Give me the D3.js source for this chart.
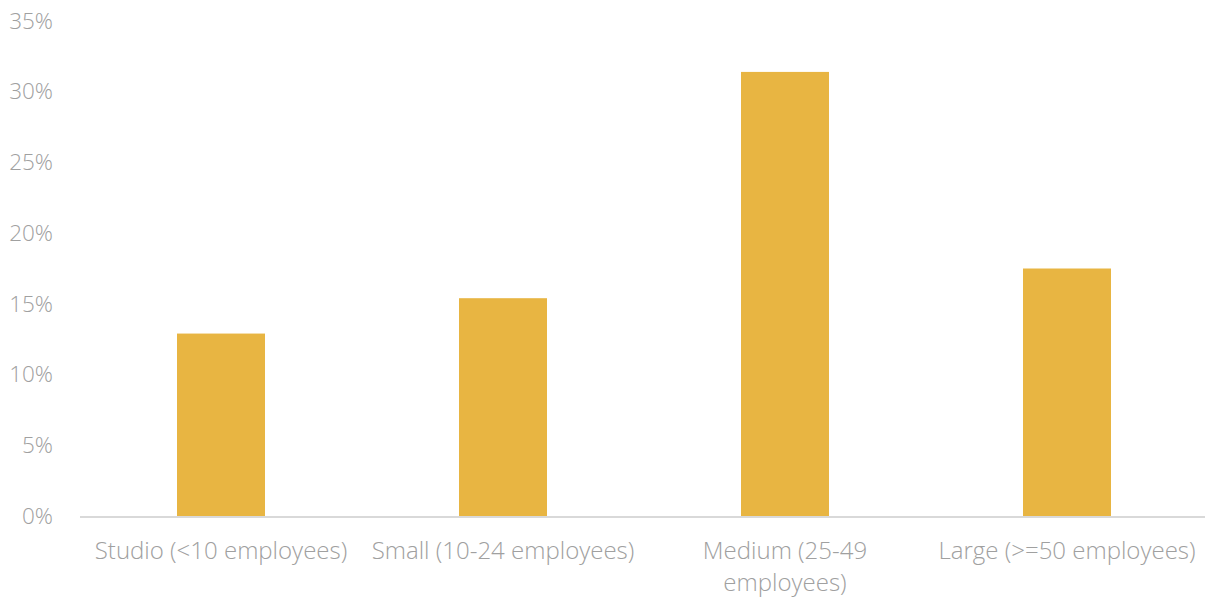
<!DOCTYPE html>
<html>
<head>
<meta charset="utf-8">
<script src="https://cdn.jsdelivr.net/npm/d3@7"></script>
<style>
  html, body { margin: 0; padding: 0; background: #fff; }
  svg text { font-family: "Open Sans", "Noto Sans", sans-serif; }
</style>
</head>
<body>
<svg id="chart" width="1206" height="599"></svg>
<script>
// Share of respondents by company size
const categories = [
  "Studio (<10 employees)",
  "Small (10-24 employees)",
  "Medium (25-49 employees)",
  "Large (>=50 employees)"
];
const values = [12.9, 15.4, 31.4, 17.5];
const yTicks = [0, 5, 10, 15, 20, 25, 30, 35];
// Wrapped category labels as they appear beneath the axis
const categoryLines = [
  ["Studio (<10 employees)"],
  ["Small (10-24 employees)"],
  ["Medium (25-49", "employees)"],
  ["Large (>=50 employees)"]
];

const svg = d3.select("#chart");
const margin = { top: 21, right: -2, bottom: 83, left: 80 };
const width = 1206 - margin.left - margin.right;
const height = 599 - margin.top - margin.bottom;

const g = svg.append("g").attr("transform", `translate(${margin.left},${margin.top})`);

const x = d3.scaleBand()
  .domain(categories)
  .range([0, width])
  .paddingInner(0.688)
  .paddingOuter(0.344);

const y = d3.scaleLinear().domain([0, 35]).range([height, 0]);

// Bars
g.selectAll("rect.bar")
  .data(values)
  .join("rect")
  .attr("class", "bar")
  .attr("x", (d, i) => x(categories[i]))
  .attr("y", d => y(d))
  .attr("width", x.bandwidth())
  .attr("height", d => y(0) - y(d))
  .attr("fill", "#E8B542");

// Baseline
g.append("line")
  .attr("x1", 0).attr("x2", width - 3)
  .attr("y1", y(0) + 1).attr("y2", y(0) + 1)
  .attr("stroke", "#d9d9d9").attr("stroke-width", 2);

// Y axis labels
const yAxis = d3.axisLeft(y)
  .tickValues(yTicks)
  .tickFormat(d => d + "%")
  .tickSize(0)
  .tickPadding(27);
const ya = g.append("g").call(yAxis);
ya.select(".domain").remove();
ya.selectAll("text")
  .attr("fill", "#a0a0a0")
  .style("font-size", "22.5px")
  .style("font-weight", "300");

// Category labels
const xl = g.append("g").attr("transform", `translate(0,${height})`);
categories.forEach((c, i) => {
  const t = xl.append("text")
    .attr("x", x(c) + x.bandwidth() / 2)
    .attr("y", 43)
    .attr("text-anchor", "middle")
    .attr("fill", "#a0a0a0")
    .style("font-size", "24px")
    .style("font-weight", "300");
  categoryLines[i].forEach((line, j) => {
    t.append("tspan")
      .attr("x", x(c) + x.bandwidth() / 2)
      .attr("dy", j === 0 ? 0 : 32)
      .text(line);
  });
});
</script>
</body>
</html>
